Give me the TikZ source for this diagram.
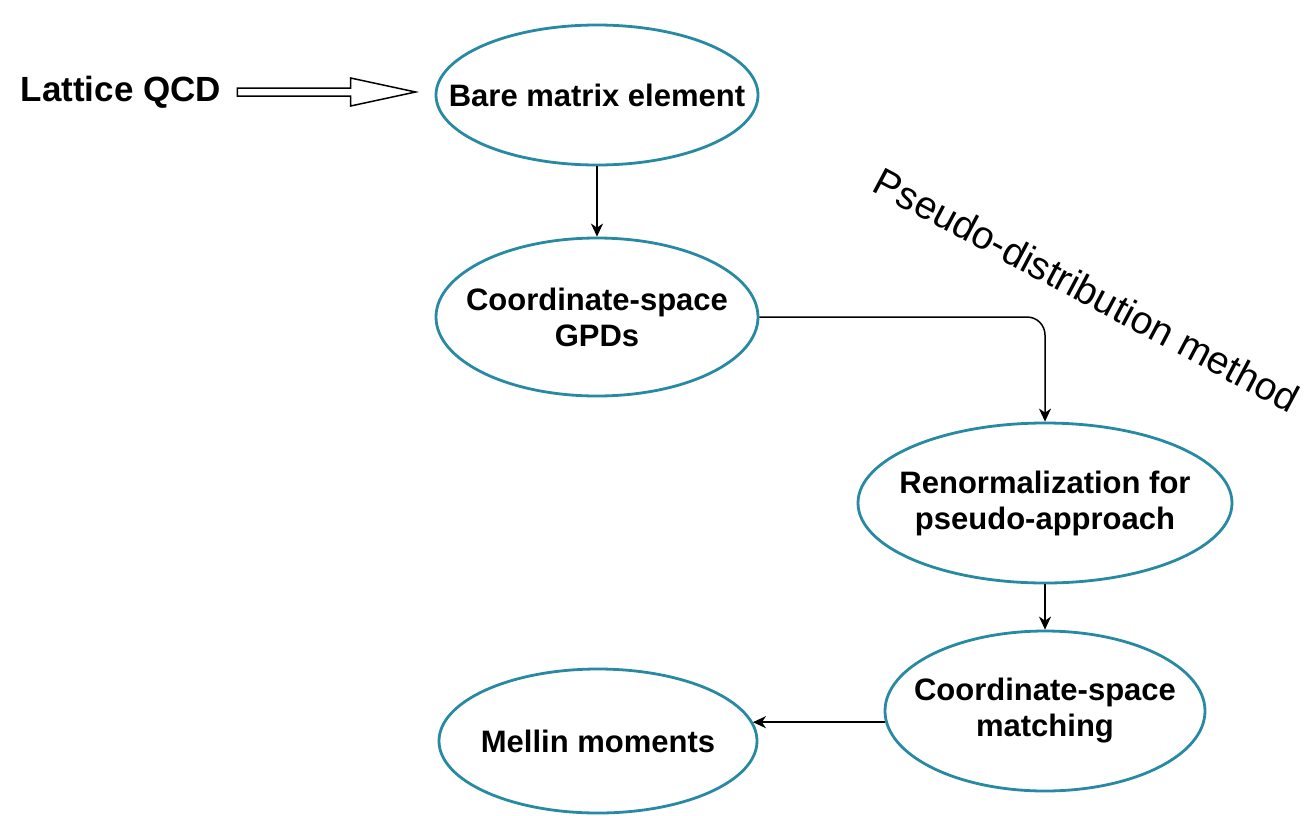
\documentclass[tikz,border=0pt]{standalone}
\usepackage{fontspec}
\setmainfont{Liberation Sans}
\usetikzlibrary{shapes.geometric,arrows.meta,calc}
\definecolor{ellcol}{RGB}{40,138,162}
\begin{document}
\begin{tikzpicture}[x=1pt,y=-1pt,
  ell/.style 2 args={ellipse, draw=ellcol, line width=2.8pt, inner sep=0pt, minimum width=#1, minimum height=#2},
  lbl/.style={font=\bfseries\fontsize{31}{36}\selectfont, align=center, inner sep=0pt},
  conn/.style={line width=1.5pt, -{Stealth[length=13pt,width=12pt,inset=4pt]}}
]
\useasboundingbox (0,0) rectangle (1315,815);
\node[ell={322}{140}] (e1) at (597,95) {};
\node[lbl] (t1) at (e1) {Bare matrix element};
\node[ell={322}{158}] (e2) at (597,317) {};
\node[lbl] (t2) at (e2) {Coordinate-space\\GPDs};
\node[ell={374}{160}] (e3) at (1045,503) {};
\node[lbl] (t3) at (e3) {Renormalization for\\pseudo-approach};
\node[ell={320}{160}] (e4) at (1045,711) {};
\node[lbl] (t4) at (e4) {Coordinate-space\\matching};
\node[ell={318}{144}] (e5) at (598,741) {};
\node[lbl] (t5) at (e5) {Mellin moments};
\node[font=\bfseries\fontsize{35}{40}\selectfont, inner sep=0pt] (lqcd) at (121,92) {Lattice QCD};
\node[font=\fontsize{39}{44}\selectfont, inner sep=0pt, rotate=-28] (pdm) at (1087,290) {Pseudo-distribution method};

\draw[conn] (e1) -- (e2);
\draw[conn, rounded corners=18pt] (e2.east) -| (e3.north);
\draw[conn] (e3) -- (e4);
\draw[conn] (e4.184) -- (e4.184 -| e5.7);

\coordinate (qa) at ($(lqcd.east)+(16,0)$);
\coordinate (qt) at ($(e1.west)+(-19,0)$);
\coordinate (tip) at (qt |- qa);
\draw[line width=1.5pt, fill=white, line join=miter]
  ($(qa)+(0,-4)$) -- ($(tip)+(-65,-4)$) -- ($(tip)+(-65,-14)$) -- (tip)
  -- ($(tip)+(-65,14)$) -- ($(tip)+(-65,4)$) -- ($(qa)+(0,4)$) -- cycle;
\end{tikzpicture}
\end{document}
